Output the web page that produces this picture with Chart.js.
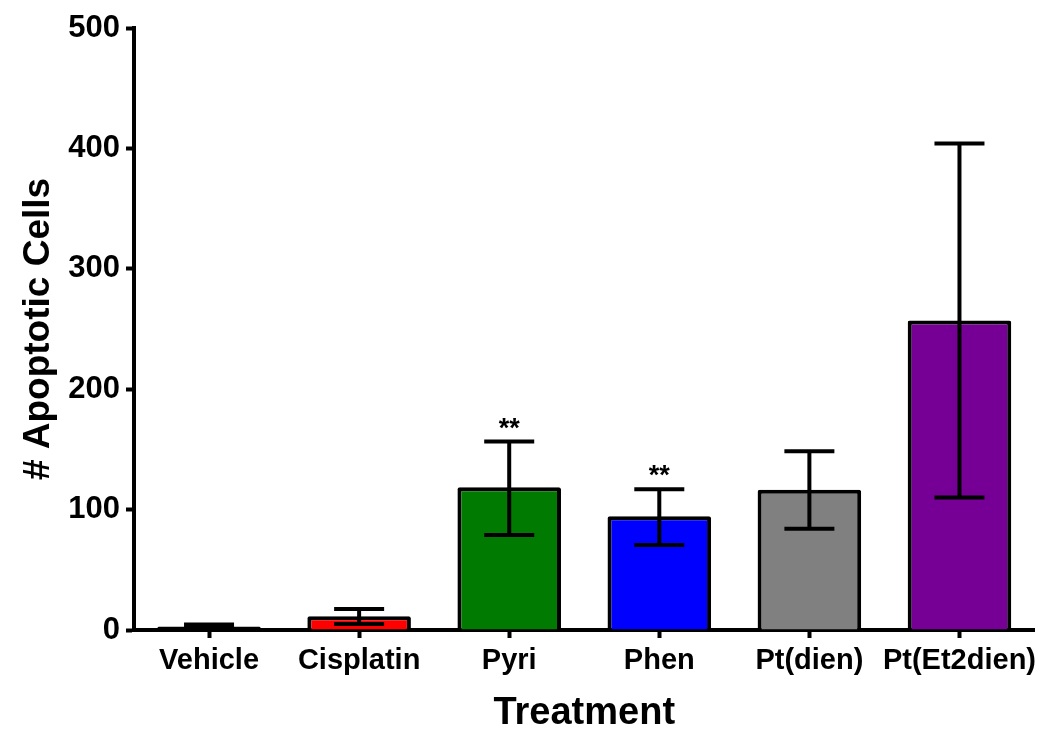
<!DOCTYPE html>
<html>
<head>
<meta charset="utf-8">
<script src="https://cdn.jsdelivr.net/npm/chart.js@4"></script>
<style>
  html, body { margin: 0; padding: 0; background: #fff; }
  #wrap { width: 1042px; height: 729px; position: relative; }
</style>
</head>
<body>
<div id="wrap"><canvas id="c" width="1042" height="729"></canvas></div>
<script>
const categories = ['Vehicle', 'Cisplatin', 'Pyri', 'Phen', 'Pt(dien)', 'Pt(Et2dien)'];
const means      = [3, 11.5, 118.5, 94.5, 116.5, 257];
const errUpper   = [4.5, 17.5, 156.5, 117, 148.5, 404];
const errLower   = [1.5, 5, 79, 70.5, 84, 110];
const significance = ['', '', '**', '**', '', ''];
const yTicks     = [0, 100, 200, 300, 400, 500];
const barColors  = ['#000000', '#FF0000', '#007A00', '#0000FF', '#808080', '#760096'];

const FONT = '"Liberation Sans", Arial, Helvetica, sans-serif';

const errorBarPlugin = {
  id: 'errorBars',
  afterDatasetsDraw(chart) {
    const ctx = chart.ctx;
    const meta = chart.getDatasetMeta(0);
    const y = chart.scales.y;
    ctx.save();
    ctx.strokeStyle = '#000';
    ctx.lineWidth = 4;
    ctx.lineCap = 'butt';
    const half = 25;
    meta.data.forEach((bar, i) => {
      const x = bar.x;
      const yh = y.getPixelForValue(errUpper[i]);
      const yl = y.getPixelForValue(errLower[i]);
      ctx.beginPath();
      ctx.moveTo(x, yh); ctx.lineTo(x, yl);
      ctx.moveTo(x - half, yh); ctx.lineTo(x + half, yh);
      ctx.moveTo(x - half, yl); ctx.lineTo(x + half, yl);
      ctx.stroke();
      if (significance[i]) {
        ctx.fillStyle = '#000';
        ctx.font = 'bold 27px ' + FONT;
        ctx.textAlign = 'center';
        ctx.textBaseline = 'alphabetic';
        ctx.fillText(significance[i], x, yh - 5);
      }
    });
    ctx.restore();
  }
};

new Chart(document.getElementById('c'), {
  type: 'bar',
  data: {
    labels: categories,
    datasets: [{
      data: means,
      backgroundColor: barColors,
      borderColor: '#000',
      borderWidth: 4,
      borderRadius: 2,
      borderSkipped: 'bottom',
      barPercentage: 0.69,
      categoryPercentage: 1.0
    }]
  },
  options: {
    responsive: false,
    animation: false,
    devicePixelRatio: 1,
    layout: { padding: { left: 0, right: 0, top: 28, bottom: 0 } },
    plugins: { legend: { display: false }, tooltip: { enabled: false } },
    scales: {
      x: {
        offset: true,
        grid: { drawOnChartArea: false, drawTicks: true, tickLength: 8, tickWidth: 4, tickColor: '#000', offset: false },
        border: { display: true, color: '#000', width: 4 },
        ticks: { color: '#000', font: { family: FONT, size: 29, weight: 'bold' }, padding: 6, maxRotation: 0, autoSkip: false },
        title: { display: true, text: 'Treatment', color: '#000', font: { family: FONT, size: 38, weight: 'bold', lineHeight: 1.0 }, padding: { top: 0, bottom: -4 } },
        afterFit(scale) { scale.height = 99; }
      },
      y: {
        min: 0, max: 500,
        afterBuildTicks(scale) { scale.ticks = yTicks.map(v => ({ value: v })); },
        grid: { drawOnChartArea: false, drawTicks: true, tickLength: 8, tickWidth: 4, tickColor: '#000' },
        border: { display: true, color: '#000', width: 4 },
        ticks: { color: '#000', font: { family: FONT, size: 31, weight: 'bold' }, padding: 6 },
        title: { display: true, text: '# Apoptotic Cells', color: '#000', font: { family: FONT, size: 37, weight: 'bold', lineHeight: 1.0 }, padding: { top: 20, bottom: 0 } },
        afterFit(scale) { scale.width = 134; }
      }
    }
  },
  plugins: [errorBarPlugin]
});
</script>
</body>
</html>
